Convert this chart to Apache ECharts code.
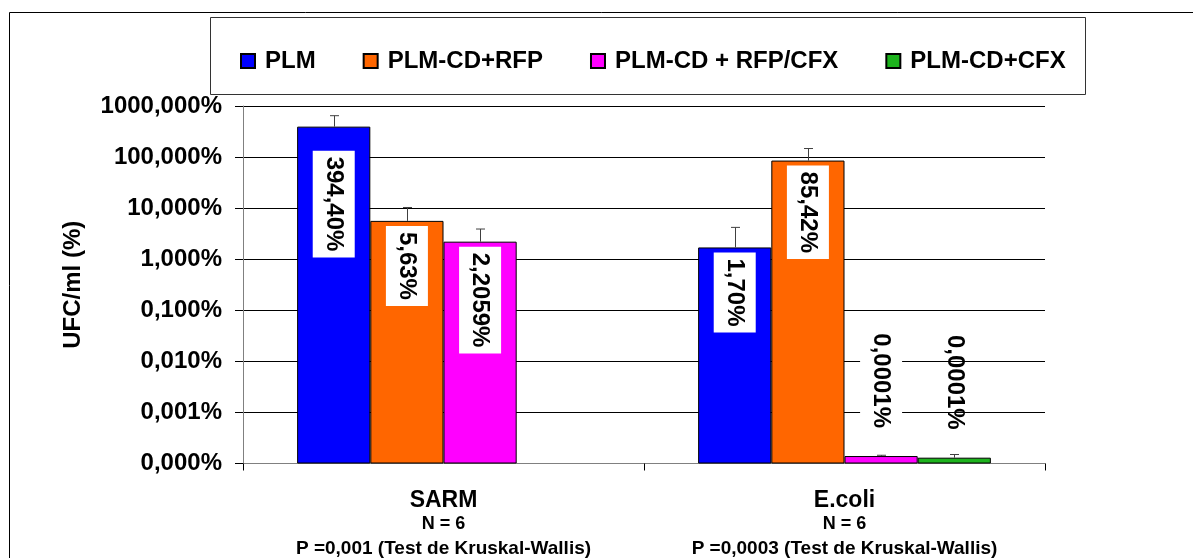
<!DOCTYPE html>
<html>
<head>
<meta charset="utf-8">
<script src="https://cdn.jsdelivr.net/npm/echarts/dist/echarts.min.js"></script>
<style>
    html, body { margin: 0; padding: 0; background: #fff; }
    #chart { width: 1193px; height: 558px; }
</style>
</head>
<body>
<div id="chart"></div>
<script>
/* ========== données ========== */
const categories = ["SARM", "E.coli"];
const sampleSizes = ["N = 6", "N = 6"];
const pTests = ["P =0,001 (Test de Kruskal-Wallis)", "P =0,0003 (Test de Kruskal-Wallis)"];
const seriesNames = ["PLM", "PLM-CD+RFP", "PLM-CD + RFP/CFX", "PLM-CD+CFX"];

const plmValues = [394.40, 1.70];
const rfpValues = [5.63, 85.42];
const rfpCfxValues = [2.2059, 0.00014];
const cfxValues = [null, 0.00013];

// haut des barres d'erreur
const plmErrTop = [646, 4.2];
const rfpErrTop = [10.3, 147];
const rfpCfxErrTop = [3.9, 0.000145];
const cfxErrTop = [null, 0.00015];

const labelDecimals = [2, 2, 4, 4];

/* ========== style ========== */
const FONT = "'Liberation Sans', Arial, sans-serif";
const colors = ["#0000ff", "#ff6600", "#ff00ff", "#1db31d"];
const allValues = [plmValues, rfpValues, rfpCfxValues, cfxValues];
const allErrTops = [plmErrTop, rfpErrTop, rfpCfxErrTop, cfxErrTop];

function fmtPct(v, d) {
    return v.toFixed(d).replace(".", ",") + "%";
}

const barSeries = seriesNames.map((name, k) => ({
    name,
    type: "bar",
    barGap: 0,
    barCategoryGap: "27%",
    itemStyle: { color: colors[k], borderColor: "#000", borderWidth: 1 },
    label: {
        show: true, position: "insideTop", distance: 5, rotate: -90,
        align: "left", verticalAlign: "middle",
        color: "#000", fontFamily: FONT, fontWeight: "bold", fontSize: 24,
        backgroundColor: "#fff", padding: [9, 6],
        formatter: p => fmtPct(p.value, labelDecimals[k]),
    },
    data: allValues[k].map((v, i) => {
        if (v == null) return "-";
        if (v < 0.001) {
            // barres minuscules : étiquette au-dessus
            return {
                value: v,
                label: { position: "top", align: "right", distance: 22,
                         backgroundColor: k === 3 ? "transparent" : "#fff" },
            };
        }
        if (k === 0 && i === 0) return { value: v, label: { distance: 24 } };
        return v;
    }),
}));

const errSeries = seriesNames.map((name, k) => ({
    type: "custom",
    z: 5,
    data: allErrTops[k].map((t, i) => (t == null ? null : [i, t, allValues[k][i]])).filter(Boolean),
    renderItem: (params, api) => {
        const i = api.value(0);
        const top = api.coord([i, api.value(1)]);
        const base = api.coord([i, api.value(2)]);
        const band = api.coord([1, 1])[0] - api.coord([0, 1])[0];
        const barW = band * 0.73 / 4;
        const x = Math.round(top[0] + (k - 1.5) * barW) + 0.5;
        const st = { stroke: "#404040", lineWidth: 1 };
        return {
            type: "group",
            children: [
                { type: "line", shape: { x1: x, y1: base[1], x2: x, y2: top[1] }, style: st },
                { type: "line", shape: { x1: x - 4.5, y1: top[1], x2: x + 4.5, y2: top[1] }, style: st },
            ],
        };
    },
}));

const chart = echarts.init(document.getElementById("chart"));
chart.setOption({
    animation: false,
    backgroundColor: "#fff",
    textStyle: { fontFamily: FONT },
    graphic: [
        { type: "rect", shape: { x: 9.5, y: 12.5, width: 1300, height: 700 },
          style: { fill: null, stroke: "#000", lineWidth: 1 }, silent: true },
        { type: "rect", shape: { x: 210.5, y: 17.5, width: 875, height: 77 },
          style: { fill: null, stroke: "#333", lineWidth: 1 }, silent: true },
    ],
    legend: {
        data: seriesNames,
        left: 235, top: 44,
        icon: "rect", itemWidth: 14, itemHeight: 14, itemGap: 47,
        textStyle: { fontFamily: FONT, fontWeight: "bold", fontSize: 24, color: "#000", padding: [0, 0, 0, 5] },
    },
    grid: { left: 243, right: 148, top: 106, bottom: 94 },
    xAxis: {
        type: "category",
        data: categories,
        axisLine: { lineStyle: { color: "#808080", width: 1 } },
        axisTick: { show: true, length: 7, lineStyle: { color: "#000" } },
        axisLabel: {
            margin: 25,
            formatter: (v, i) => `{a|${v}}\n{b|${sampleSizes[i]}}\n{c|${pTests[i]}}`,
            rich: {
                a: { fontFamily: FONT, fontWeight: "bold", fontSize: 23, lineHeight: 24, color: "#000" },
                b: { fontFamily: FONT, fontWeight: "bold", fontSize: 18, lineHeight: 24, color: "#000" },
                c: { fontFamily: FONT, fontWeight: "bold", fontSize: 19, lineHeight: 24, color: "#000" },
            },
        },
    },
    yAxis: {
        type: "log",
        logBase: 10,
        min: 0.0001,
        max: 1000,
        startValue: 0.0001,
        name: "UFC/ml (%)",
        nameLocation: "middle",
        nameGap: 158,
        nameTextStyle: { fontFamily: FONT, fontWeight: "bold", fontSize: 24, color: "#000" },
        axisLine: { show: true, lineStyle: { color: "#808080", width: 1 } },
        axisTick: { show: true, length: 8, lineStyle: { color: "#000" } },
        splitLine: { show: true, lineStyle: { color: "#000", width: 1 } },
        axisLabel: {
            margin: 21,
            color: "#000", fontFamily: FONT, fontWeight: "bold", fontSize: 24,
            formatter: v => fmtPct(v, 3),
        },
    },
    series: [...barSeries, ...errSeries],
});
</script>
</body>
</html>
